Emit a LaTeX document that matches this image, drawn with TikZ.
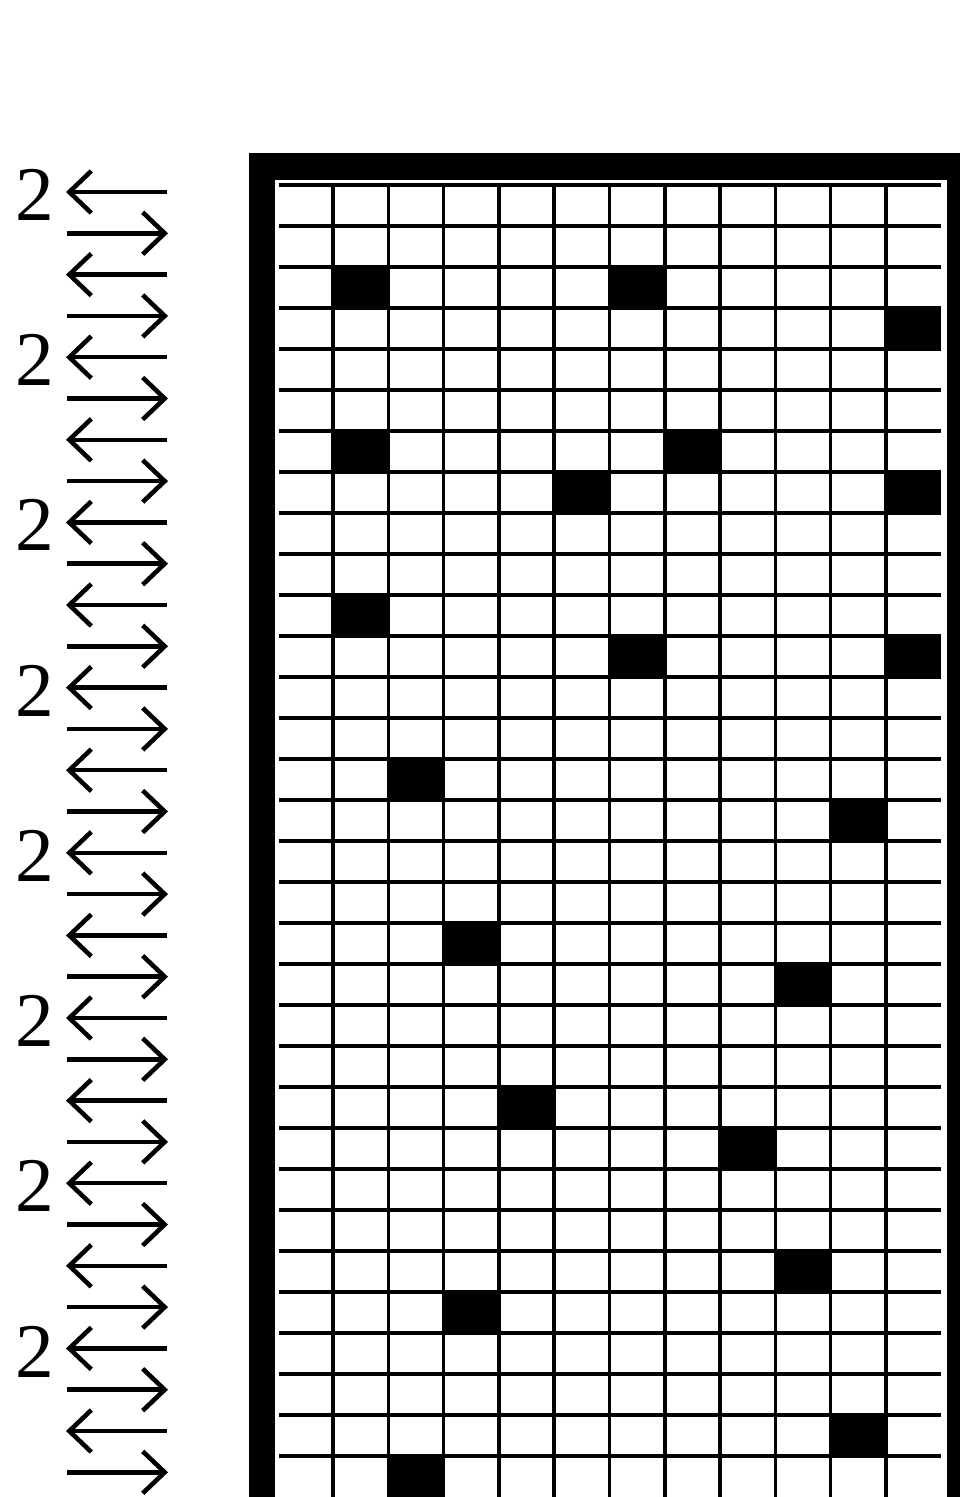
\documentclass[tikz,border=0pt]{standalone}
\usepackage{fontspec}
\setmainfont{Liberation Serif}
\usetikzlibrary{arrows.meta}

\begin{document}
\begin{tikzpicture}[
    x=0.02cm, y=-0.02cm,
    >={Straight Barb[length=0.44cm, width=0.84cm]},
    grid/.style={line width=2pt},
    frame/.style={fill=black},
    cell/.style={fill=black},
    arr/.style={line width=2.6pt},
    num/.style={inner sep=0pt, font=\fontsize{44}{44}\selectfont},
  ]
    \useasboundingbox (0,0) rectangle (960,1497);
    \clip (0,0) rectangle (960,1497);

    % heavy frame, left / top / right
    \fill[frame] (249,153) rectangle (960,180);
    \fill[frame] (249,153) rectangle (275,1497);
    \fill[frame] (947,153) rectangle (960,1497);

    % grid
    \foreach \j in {0,...,31}
      \draw[grid] (279,{185+41*\j}) -- (941,{185+41*\j});
    \foreach \i in {0,...,10}
      \draw[grid] ({333+55.3*\i},183) -- ({333+55.3*\i},1497);

    % filled cells (column/row)
    \foreach \c/\r in {2/3,7/3,12/4,2/7,8/7,6/8,12/8,2/11,7/12,12/12,3/15,11/16,
                       4/19,10/20,5/23,9/24,10/27,4/28,11/31,3/32}
      \fill[cell] ({277.7+55.3*(\c-1)},{185+41*(\r-1)}) rectangle ++(55.3,41);

    % direction marks
    \foreach \k [evaluate=\k as \ya using 192+41.3*(\k-1)] in {1,3,...,31}
      \draw[arr,<-] (66,\ya) -- (167,\ya);
    \foreach \k [evaluate=\k as \ya using 192+41.3*(\k-1)] in {2,4,...,32}
      \draw[arr,->] (67,\ya) -- (168,\ya);
    \foreach \k [evaluate=\k as \ya using 195+41.3*(\k-1)] in {1,5,...,29}
      \node[num] (two\k) at (35,\ya) {2};
  \end{tikzpicture}
\end{document}
